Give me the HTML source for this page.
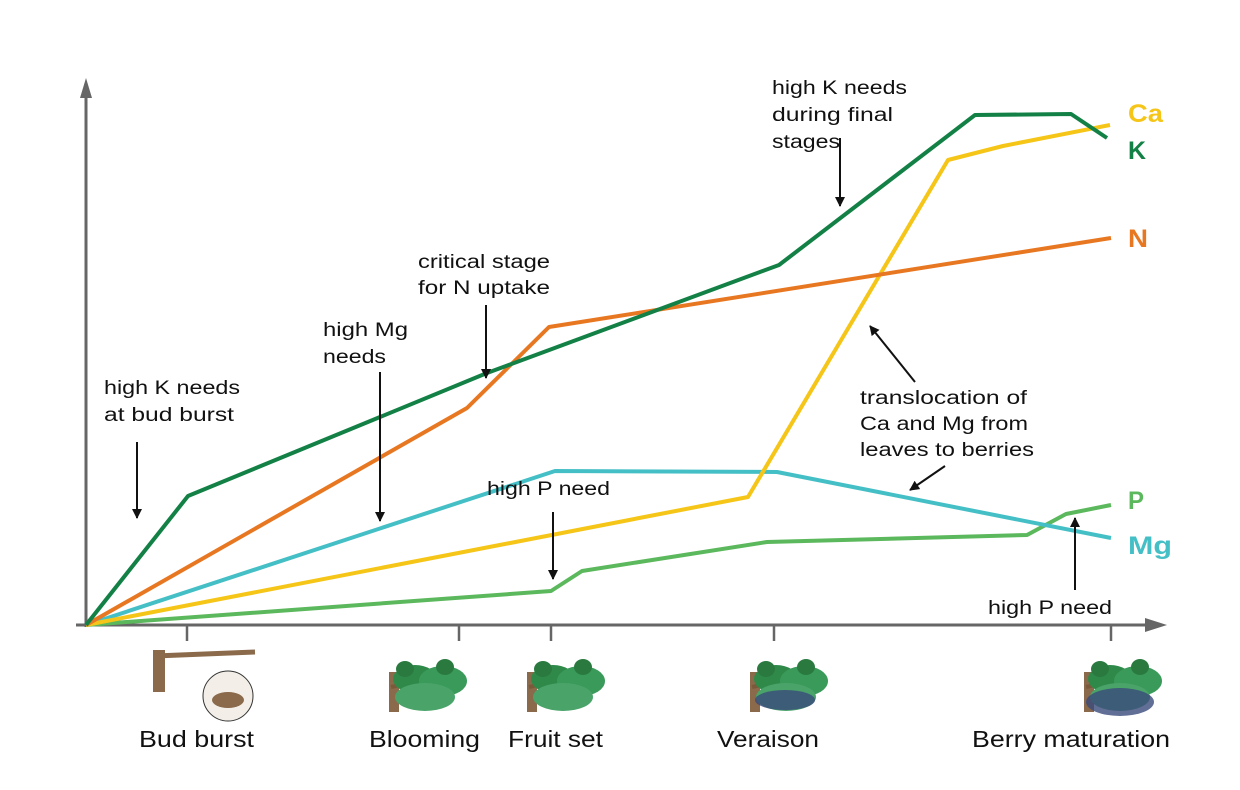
<!DOCTYPE html>
<html><head><meta charset="utf-8"><style>
html,body{margin:0;padding:0;background:#fff}
svg{display:block;font-family:"Liberation Sans",sans-serif}
</style></head><body>
<svg width="1240" height="790" viewBox="0 0 1240 790" xmlns="http://www.w3.org/2000/svg">
<defs>
<marker id="ah" markerWidth="10" markerHeight="10" refX="9" refY="5" orient="auto" markerUnits="userSpaceOnUse"><path d="M0,0 L10,5 L0,10 z" fill="#111"/></marker>
<g id="plant">
<rect x="-36" y="5" width="10" height="40" fill="#8a6a4a"/>
<path d="M-34,20 Q0,12 40,18" stroke="#7a5a3a" stroke-width="4" fill="none"/>
<ellipse cx="-10" cy="12" rx="22" ry="14" fill="#2f8a4a"/>
<ellipse cx="18" cy="14" rx="24" ry="15" fill="#3a9a5a"/>
<ellipse cx="0" cy="30" rx="30" ry="14" fill="#4aa46a"/>
<ellipse cx="-20" cy="2" rx="9" ry="8" fill="#2a7a40"/>
<ellipse cx="20" cy="0" rx="9" ry="8" fill="#2a7a40"/>
</g>
</defs>
<line x1="86" y1="627" x2="86" y2="95" stroke="#666" stroke-width="3"/>
<path d="M80,98 L86,78 L92,98 z" fill="#666"/>
<line x1="76" y1="625" x2="1148" y2="625" stroke="#666" stroke-width="3"/>
<path d="M1145,618 L1167,625 L1145,632 z" fill="#666"/>
<g stroke="#666" stroke-width="2.5">
<line x1="187" y1="625" x2="187" y2="641"/><line x1="459" y1="625" x2="459" y2="641"/>
<line x1="551" y1="625" x2="551" y2="641"/><line x1="774" y1="625" x2="774" y2="641"/>
<line x1="1111" y1="625" x2="1111" y2="641"/>
</g>
<g fill="none" stroke-width="4" stroke-linejoin="round">
<polyline stroke="#5cb85c" points="86,625 551,591 582,571 767,542 1027,535 1066,514 1111,505"/>
<polyline stroke="#45bfc6" points="86,625 555,471 777,472 1111,538"/>
<polyline stroke="#f5c518" points="86,625 748,497 948,160 1003,146 1110,125"/>
<polyline stroke="#e87722" points="86,625 467,408 549,327 1111,238"/>
<polyline stroke="#138146" points="86,625 188,496 487,373 779,265 975,115 1071,114 1107,138"/>
</g>
<g font-size="25" font-weight="bold" lengthAdjust="spacingAndGlyphs">
<text x="1128" y="122" fill="#f5c518" textLength="35" lengthAdjust="spacingAndGlyphs">Ca</text>
<text x="1128" y="159" fill="#138146" textLength="18" lengthAdjust="spacingAndGlyphs">K</text>
<text x="1128" y="247" fill="#e87722" textLength="20" lengthAdjust="spacingAndGlyphs">N</text>
<text x="1128" y="509" fill="#5cb85c" textLength="16" lengthAdjust="spacingAndGlyphs">P</text>
<text x="1128" y="554" fill="#45bfc6" textLength="44" lengthAdjust="spacingAndGlyphs">Mg</text>
</g>
<g font-size="19" fill="#111">
<text x="104" y="394" textLength="136" lengthAdjust="spacingAndGlyphs">high K needs</text><text x="104" y="421" textLength="130" lengthAdjust="spacingAndGlyphs">at bud burst</text>
<text x="323" y="336" textLength="85" lengthAdjust="spacingAndGlyphs">high Mg</text><text x="323" y="363" textLength="63" lengthAdjust="spacingAndGlyphs">needs</text>
<text x="418" y="268" textLength="132" lengthAdjust="spacingAndGlyphs">critical stage</text><text x="418" y="294" textLength="132" lengthAdjust="spacingAndGlyphs">for N uptake</text>
<text x="772" y="94" textLength="135" lengthAdjust="spacingAndGlyphs">high K needs</text><text x="772" y="121" textLength="121" lengthAdjust="spacingAndGlyphs">during final</text><text x="772" y="148" textLength="68" lengthAdjust="spacingAndGlyphs">stages</text>
<text x="487" y="495" textLength="123" lengthAdjust="spacingAndGlyphs">high P need</text>
<text x="860" y="404" textLength="167" lengthAdjust="spacingAndGlyphs">translocation of</text><text x="860" y="430" textLength="168" lengthAdjust="spacingAndGlyphs">Ca and Mg from</text><text x="860" y="456" textLength="174" lengthAdjust="spacingAndGlyphs">leaves to berries</text>
<text x="988" y="614" textLength="124" lengthAdjust="spacingAndGlyphs">high P need</text>
</g>
<g stroke="#111" stroke-width="2" marker-end="url(#ah)">
<line x1="137" y1="442" x2="137" y2="518"/>
<line x1="380" y1="372" x2="380" y2="521"/>
<line x1="486" y1="305" x2="486" y2="378"/>
<line x1="840" y1="138" x2="840" y2="206"/>
<line x1="553" y1="512" x2="553" y2="579"/>
<line x1="915" y1="382" x2="870" y2="326"/>
<line x1="945" y1="466" x2="910" y2="490"/>
<line x1="1075" y1="590" x2="1075" y2="518"/>
</g>
<g>
<rect x="153" y="650" width="12" height="42" fill="#8a6a4a"/>
<path d="M155,656 L255,652" stroke="#8a6a4a" stroke-width="5"/>
<circle cx="228" cy="696" r="25" fill="#f3efe8" stroke="#333" stroke-width="1"/>
<ellipse cx="228" cy="700" rx="16" ry="8" fill="#8a6a4a"/>
</g>
<use href="#plant" x="425" y="667"/>
<use href="#plant" x="563" y="667"/>
<use href="#plant" x="786" y="667"/>
<use href="#plant" x="1120" y="667"/>
<g fill="#3a4a7a" opacity="0.8">
<ellipse cx="785" cy="700" rx="30" ry="10"/>
<ellipse cx="1120" cy="702" rx="34" ry="14"/>
</g>
<g font-size="23" fill="#111">
<text x="139" y="747" textLength="115" lengthAdjust="spacingAndGlyphs">Bud burst</text>
<text x="369" y="747" textLength="111" lengthAdjust="spacingAndGlyphs">Blooming</text>
<text x="508" y="747" textLength="95" lengthAdjust="spacingAndGlyphs">Fruit set</text>
<text x="717" y="747" textLength="102" lengthAdjust="spacingAndGlyphs">Veraison</text>
<text x="972" y="747" textLength="198" lengthAdjust="spacingAndGlyphs">Berry maturation</text>
</g>
</svg>
</body></html>
